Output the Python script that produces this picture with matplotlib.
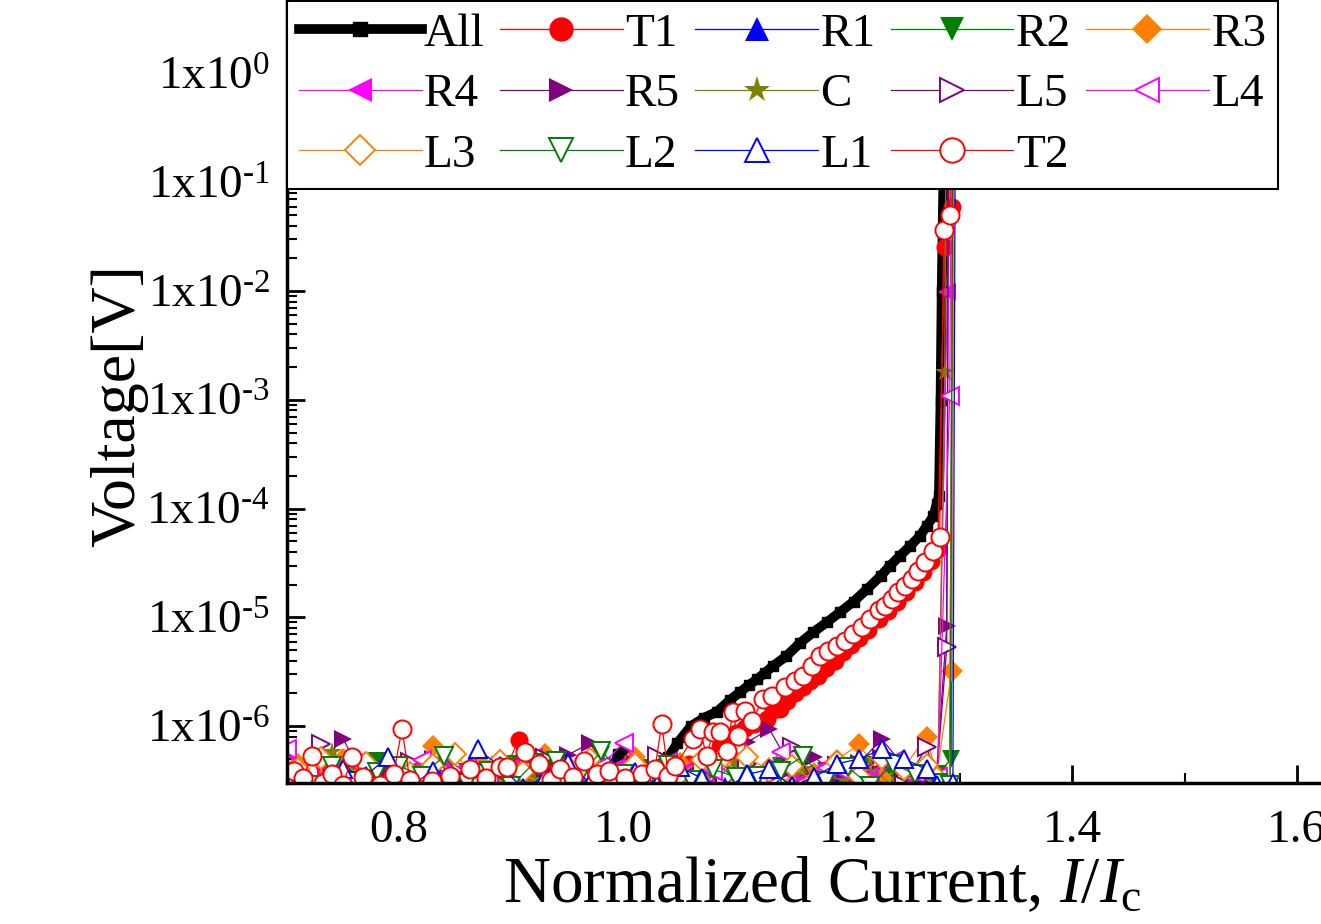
import matplotlib
matplotlib.use("Agg")
import matplotlib.pyplot as plt
from matplotlib.ticker import MultipleLocator, LogLocator, FuncFormatter, NullFormatter
import numpy as np

plt.rcParams["font.family"] = ["Liberation Serif", "DejaVu Serif"]
plt.rcParams["mathtext.fontset"] = "custom"
plt.rcParams["mathtext.rm"] = "Liberation Serif"
plt.rcParams["mathtext.it"] = "Liberation Serif:italic"

# ---- data (current I/Ic, voltage V) ----
# shared current points of the noise floor
grid_a = [0.70, 0.72, 0.74, 0.76, 0.78, 0.80, 0.82, 0.84, 0.86, 0.88,
          0.90, 0.92, 0.94, 0.96, 0.98, 1.00, 1.02, 1.04, 1.06, 1.08,
          1.10, 1.12, 1.14, 1.16, 1.18, 1.20, 1.22, 1.24, 1.26, 1.28]
grid_b = [0.71, 0.73, 0.75, 0.77, 0.79, 0.81, 0.83, 0.85, 0.87, 0.89,
          0.91, 0.93, 0.95, 0.97, 0.99, 1.01, 1.03, 1.05, 1.07, 1.09,
          1.11, 1.13, 1.15, 1.17, 1.19, 1.21, 1.23, 1.25, 1.27, 1.279]

all_x = [0.985, 0.995, 1.000, 1.005, 1.015, 1.030, 1.040, 1.048, 1.060, 1.072,
         1.083, 1.095, 1.104, 1.112, 1.119, 1.126, 1.133, 1.145, 1.157, 1.169,
         1.181, 1.193, 1.205, 1.217, 1.229, 1.237, 1.246, 1.255, 1.264, 1.270,
         1.276, 1.279, 1.281, 1.2825, 1.2835, 1.2850, 1.2865, 1.2880]
all_v = [2.0e-7, 5.6e-7, 6.0e-7, 4.6e-7, 2.6e-7, 2.8e-7, 5.2e-7, 7.0e-7, 1.0e-6, 1.2e-6,
         1.35e-6, 1.75e-6, 2.06e-6, 2.4e-6, 2.7e-6, 3.1e-6, 3.56e-6, 4.4e-6, 5.8e-6, 7.3e-6,
         9.0e-6, 1.12e-5, 1.4e-5, 1.82e-5, 2.4e-5, 2.96e-5, 3.66e-5, 4.5e-5, 5.6e-5, 6.9e-5,
         8.5e-5, 1.1e-4, 1.3e-4, 1e-3, 1e-2, 1e-1, 1.0, 8.0]

t1_x = [0.702, 0.716, 0.730, 0.744, 0.758, 0.772, 0.786, 0.800, 0.814, 0.828,
        0.842, 0.856, 0.870, 0.884, 0.896, 0.907, 0.920, 0.934, 0.948, 0.962,
        0.976, 0.990, 1.004, 1.018, 1.032, 1.046, 1.058, 1.070, 1.080, 1.086,
        1.092, 1.100, 1.108, 1.116, 1.1276, 1.133, 1.139, 1.146, 1.153, 1.160,
        1.166, 1.173, 1.180, 1.188, 1.1953, 1.203, 1.210, 1.218, 1.228, 1.236,
        1.244, 1.252, 1.260, 1.267, 1.274, 1.280, 1.2862, 1.2924, 1.295]
t1_v = [3.2e-7, 2.6e-7, 3.9e-7, 3.0e-7, 2.5e-7, 3.7e-7, 2.8e-7, 3.4e-7, 2.6e-7, 4.1e-7,
        3.0e-7, 2.7e-7, 3.8e-7, 3.2e-7, 4.4e-7, 7.5e-7, 3.4e-7, 4.2e-7, 2.9e-7, 3.6e-7,
        4.6e-7, 3.1e-7, 3.8e-7, 2.8e-7, 4.0e-7, 3.4e-7, 4.5e-7, 3.9e-7, 5.2e-7, 6.5e-7,
        7.6e-7, 8.6e-7, 9.6e-7, 1.05e-6, 1.16e-6, 1.40e-6, 1.43e-6, 1.70e-6, 2.0e-6, 2.3e-6,
        2.6e-6, 2.9e-6, 3.4e-6, 4.0e-6, 4.8e-6, 5.6e-6, 6.5e-6, 7.6e-6, 9.6e-6, 1.15e-5,
        1.4e-5, 1.7e-5, 2.1e-5, 2.6e-5, 3.3e-5, 4.3e-5, 2.55e-2, 5.96e-2, 5.0]

t2_x = [0.706, 0.714, 0.722, 0.732, 0.740, 0.750, 0.758, 0.768, 0.783, 0.795,
        0.8025, 0.8095, 0.829, 0.845, 0.863, 0.877, 0.890, 0.896, 0.912, 0.9245,
        0.935, 0.943, 0.955, 0.9646, 0.976, 0.987, 1.001, 1.0163, 1.0278, 1.034,
        1.040, 1.0457, 1.0617, 1.068, 1.074, 1.0795, 1.0858, 1.092, 1.0973, 1.1018,
        1.108, 1.1143, 1.1241, 1.1321, 1.1437, 1.1526, 1.1597, 1.1677, 1.1748, 1.182,
        1.190, 1.1971, 1.2042, 1.2122, 1.2194, 1.228, 1.2327, 1.2390, 1.2443, 1.2506,
        1.2568, 1.2621, 1.2684, 1.2755, 1.2817, 1.2855, 1.2906, 1.293]
t2_v = [3.9e-7, 3.3e-7, 5.3e-7, 3.0e-7, 3.6e-7, 2.9e-7, 5.2e-7, 3.4e-7, 2.9e-7, 3.6e-7,
        9.4e-7, 3.2e-7, 3.1e-7, 3.5e-7, 4.0e-7, 3.3e-7, 4.2e-7, 4.2e-7, 5.8e-7, 4.5e-7,
        3.2e-7, 4.0e-7, 3.4e-7, 4.8e-7, 3.6e-7, 3.9e-7, 3.3e-7, 3.6e-7, 4.0e-7, 1.04e-6,
        3.5e-7, 4.3e-7, 7.6e-7, 9.4e-7, 5.3e-7, 8.8e-7, 8.8e-7, 5.9e-7, 1.35e-6, 8.1e-7,
        1.37e-6, 1.11e-6, 1.77e-6, 1.89e-6, 2.29e-6, 2.6e-6, 2.88e-6, 3.56e-6, 4.4e-6, 4.9e-6,
        5.45e-6, 6.05e-6, 7.0e-6, 8.1e-6, 9.6e-6, 1.17e-5, 1.27e-5, 1.47e-5, 1.71e-5, 1.94e-5,
        2.25e-5, 2.67e-5, 3.23e-5, 4.07e-5, 5.5e-5, 3.66e-2, 5.0e-2, 5.0]

# noise floor values (on grid_a / grid_b) and the points after the quench
r1_v = [2.8e-7, 3.5e-7, 2.5e-7, 4.1e-7, 3.0e-7, 2.7e-7, 4.4e-7, 3.2e-7, 2.6e-7, 3.8e-7,
        2.9e-7, 4.0e-7, 3.3e-7, 2.5e-7, 4.3e-7, 3.1e-7, 2.7e-7, 3.9e-7, 4.6e-7, 2.8e-7,
        3.4e-7, 2.6e-7, 4.2e-7, 3.0e-7, 2.9e-7, 3.6e-7, 4.5e-7, 2.7e-7, 3.2e-7, 2.6e-7]
r1_tail_x = [1.2905, 1.294]
r1_tail_v = [2.6e-7, 5.0]

r2_v = [3.0e-7, 4.2e-7, 2.6e-7, 3.6e-7, 4.8e-7, 2.9e-7, 3.3e-7, 5.0e-7, 3.8e-7, 2.7e-7,
        4.5e-7, 3.1e-7, 4.0e-7, 2.8e-7, 5.4e-7, 3.5e-7, 4.1e-7, 2.9e-7, 3.7e-7, 4.9e-7,
        3.2e-7, 2.6e-7, 4.3e-7, 3.0e-7, 3.9e-7, 2.8e-7, 4.4e-7, 3.4e-7, 2.7e-7, 3.6e-7]
r2_tail_x = [1.292, 1.2945]
r2_tail_v = [5.0e-7, 5.0]

r3_v = [4.5e-7, 3.2e-7, 5.0e-7, 2.9e-7, 4.0e-7, 3.6e-7, 6.5e-7, 3.0e-7, 4.8e-7, 3.4e-7,
        2.8e-7, 5.6e-7, 3.9e-7, 4.4e-7, 3.1e-7, 5.2e-7, 2.7e-7, 4.6e-7, 3.5e-7, 5.5e-7,
        3.0e-7, 4.1e-7, 2.9e-7, 3.7e-7, 4.9e-7, 6.8e-7, 3.3e-7, 4.2e-7, 8.0e-7, 3.5e-7]
r3_tail_x = [1.2924, 1.295]
r3_tail_v = [3.2e-6, 5.0]

r4_v = [5.8e-7, 3.4e-7, 4.1e-7, 2.9e-7, 3.7e-7, 4.5e-7, 3.0e-7, 4.8e-7, 3.3e-7, 2.7e-7,
        4.3e-7, 5.2e-7, 3.1e-7, 3.9e-7, 2.6e-7, 4.6e-7, 3.5e-7, 2.8e-7, 4.2e-7, 3.0e-7,
        4.9e-7, 3.6e-7, 4.0e-7, 3.2e-7, 4.4e-7, 2.9e-7, 3.8e-7, 4.7e-7, 3.1e-7, 3.5e-7]
r4_tail_x = [1.2886, 1.291]
r4_tail_v = [9.8e-3, 5.0]

r5_v = [3.6e-7, 4.6e-7, 7.6e-7, 3.2e-7, 4.0e-7, 2.9e-7, 5.0e-7, 3.4e-7, 2.7e-7, 4.4e-7,
        3.8e-7, 3.0e-7, 5.4e-7, 7.0e-7, 3.3e-7, 4.5e-7, 2.8e-7, 3.9e-7, 4.2e-7, 5.0e-7,
        7.1e-7, 9.4e-7, 4.0e-7, 5.2e-7, 3.5e-7, 4.6e-7, 7.6e-7, 4.3e-7, 3.0e-7, 3.8e-7]
r5_tail_x = [1.288, 1.290]
r5_tail_v = [8.3e-6, 5.0]

c_v = [3.1e-7, 4.0e-7, 5.8e-7, 3.3e-7, 2.7e-7, 4.2e-7, 4.3e-7, 3.0e-7, 3.6e-7, 2.8e-7,
       4.4e-7, 3.2e-7, 2.6e-7, 3.9e-7, 4.7e-7, 3.4e-7, 2.9e-7, 4.1e-7, 3.0e-7, 3.7e-7,
       4.6e-7, 3.3e-7, 2.7e-7, 4.0e-7, 3.5e-7, 3.1e-7, 4.3e-7, 2.8e-7, 3.8e-7, 3.2e-7]
c_tail_x = [1.2862, 1.288]
c_tail_v = [1.8e-3, 5.0]

l5_v = [3.0e-7, 6.8e-7, 3.5e-7, 4.2e-7, 2.8e-7, 4.7e-7, 3.3e-7, 2.6e-7, 4.1e-7, 3.7e-7,
        2.9e-7, 5.1e-7, 3.2e-7, 4.4e-7, 3.6e-7, 2.7e-7, 5.3e-7, 3.1e-7, 4.0e-7, 2.8e-7,
        4.5e-7, 3.4e-7, 6.4e-7, 3.0e-7, 4.3e-7, 3.8e-7, 5.0e-7, 2.9e-7, 6.4e-7, 3.5e-7]
l5_tail_x = [1.288, 1.290]
l5_tail_v = [5.3e-6, 5.0]

l4_v = [6.2e-7, 4.0e-7, 3.2e-7, 4.6e-7, 2.8e-7, 3.6e-7, 4.9e-7, 3.0e-7, 4.2e-7, 3.4e-7,
        2.7e-7, 4.5e-7, 3.1e-7, 3.8e-7, 4.3e-7, 7.0e-7, 3.3e-7, 4.7e-7, 2.9e-7, 3.9e-7,
        6.3e-7, 3.5e-7, 5.8e-7, 3.0e-7, 4.1e-7, 3.6e-7, 2.8e-7, 4.8e-7, 3.7e-7, 3.4e-7]
l4_tail_x = [1.2907, 1.2925]
l4_tail_v = [1.09e-3, 5.0]

l3_v = [4.0e-7, 5.1e-7, 3.3e-7, 4.6e-7, 2.9e-7, 3.7e-7, 4.4e-7, 5.5e-7, 3.2e-7, 4.8e-7,
        3.8e-7, 2.7e-7, 4.2e-7, 5.0e-7, 3.4e-7, 4.5e-7, 3.0e-7, 3.6e-7, 4.9e-7, 5.3e-7,
        5.2e-7, 3.9e-7, 4.3e-7, 3.1e-7, 4.7e-7, 3.5e-7, 5.1e-7, 4.0e-7, 4.4e-7, 3.3e-7]
l3_tail_x = [1.2905, 1.294]
l3_tail_v = [2.8e-7, 5.0]

l2_v = [3.7e-7, 2.9e-7, 4.3e-7, 3.1e-7, 3.8e-7, 4.3e-7, 3.5e-7, 5.3e-7, 3.0e-7, 3.9e-7,
        2.8e-7, 4.6e-7, 4.8e-7, 3.3e-7, 5.9e-7, 3.6e-7, 2.9e-7, 4.4e-7, 3.2e-7, 4.0e-7,
        3.4e-7, 3.5e-7, 3.9e-7, 5.3e-7, 3.1e-7, 4.2e-7, 2.8e-7, 4.5e-7, 3.6e-7, 3.0e-7]
l2_tail_x = [1.291, 1.294]
l2_tail_v = [2.9e-7, 5.0]

l1_v = [3.2e-7, 2.6e-7, 4.0e-7, 3.5e-7, 5.2e-7, 2.8e-7, 3.9e-7, 3.1e-7, 6.1e-7, 4.3e-7,
        2.7e-7, 3.4e-7, 4.6e-7, 3.0e-7, 2.5e-7, 3.8e-7, 2.9e-7, 4.2e-7, 3.3e-7, 2.6e-7,
        3.6e-7, 4.0e-7, 2.8e-7, 3.4e-7, 4.5e-7, 5.0e-7, 6.1e-7, 5.0e-7, 4.0e-7, 2.9e-7]
l1_tail_x = [1.2935, 1.296]
l1_tail_v = [3.0e-7, 5.0]

RED, BLUE, GREEN, ORANGE = "#FF0000", "#0000FF", "#008000", "#FF8000"
MAGENTA, PURPLE, OLIVE = "#FF00FF", "#800080", "#808000"

# label, x, v, color, marker, filled, marker size
series = [
    ("T1", t1_x, t1_v, RED, "o", True, 13),
    ("R1", grid_b + r1_tail_x, r1_v + r1_tail_v, BLUE, "^", True, 13),
    ("R2", grid_a + r2_tail_x, r2_v + r2_tail_v, GREEN, "v", True, 13),
    ("R3", grid_b + r3_tail_x, r3_v + r3_tail_v, ORANGE, "D", True, 11),
    ("R4", grid_a + r4_tail_x, r4_v + r4_tail_v, MAGENTA, "<", True, 13),
    ("R5", grid_b + r5_tail_x, r5_v + r5_tail_v, PURPLE, ">", True, 13),
    ("C", grid_a + c_tail_x, c_v + c_tail_v, OLIVE, "*", True, 15),
    ("L5", grid_b + l5_tail_x, l5_v + l5_tail_v, PURPLE, ">", False, 13),
    ("L4", grid_a + l4_tail_x, l4_v + l4_tail_v, MAGENTA, "<", False, 13),
    ("L3", grid_b + l3_tail_x, l3_v + l3_tail_v, ORANGE, "D", False, 11),
    ("L2", grid_a + l2_tail_x, l2_v + l2_tail_v, GREEN, "v", False, 13),
    ("L1", grid_b + l1_tail_x, l1_v + l1_tail_v, BLUE, "^", False, 13),
    ("T2", t2_x, t2_v, RED, "o", False, 13),
]

fig = plt.figure(figsize=(13.21, 9.24), dpi=100)
# the picture is a crop: axes run past the top and right edges of the figure
ax = fig.add_axes([287 / 1321, 141 / 924, 1122 / 1321, 818 / 924])

handles = {}
(h,) = ax.plot(all_x, all_v, color="black", lw=7, marker="s", ms=7,
               mec="black", mfc="black", label="All")
handles["All"] = h
for name, xs, vs, col, mk, filled, ms in series:
    (h,) = ax.plot(xs, vs, color=col, lw=0.9, marker=mk, ms=ms,
                   mfc=col if filled else "white", mec=col,
                   mew=0 if filled else 1.4, label=name)
    handles[name] = h

ax.set_yscale("log")
ax.set_xlim(0.7, 1.7)
ax.set_ylim(3e-7, 10)


def decade_label(v, pos):
    e = int(round(np.log10(v)))
    sup = str(e).replace("-", "\u2010")
    return "1x10$^{%s}$" % sup


ax.xaxis.set_major_locator(MultipleLocator(0.2))
ax.xaxis.set_minor_locator(MultipleLocator(0.1))
ax.xaxis.set_major_formatter(FuncFormatter(lambda v, p: f"{v:.1f}"))
ax.yaxis.set_major_locator(LogLocator(base=10, numticks=20))
ax.yaxis.set_minor_locator(LogLocator(base=10, subs=np.arange(2, 10), numticks=20))
ax.yaxis.set_minor_formatter(NullFormatter())
ax.yaxis.set_major_formatter(FuncFormatter(decade_label))

ax.tick_params(which="both", direction="in", labelsize=34)
ax.tick_params(which="major", length=13, width=2)
ax.tick_params(which="minor", length=7, width=1.5)
ax.tick_params(axis="x", pad=19)
ax.tick_params(axis="y", pad=12)
for sp in ax.spines.values():
    sp.set_linewidth(2.5)

ax.set_xlabel(r"Normalized Current, $I/I_{\mathrm{c}}$", fontsize=47)
ax.xaxis.set_label_coords(0.477, -0.09)
ax.set_ylabel("Voltage[V]", fontsize=46)
ax.yaxis.set_label_coords(-0.124, 0.461)

# legend filled row by row (matplotlib fills column by column)
order = ["All", "R4", "L3", "T1", "R5", "L2", "R1", "C", "L1",
         "R2", "L5", "T2", "R3", "L4"]
leg = ax.legend([handles[k] for k in order], order, ncol=5,
                loc="upper left", bbox_to_anchor=(287 / 1321, 1 - 1 / 924),
                bbox_transform=fig.transFigure, borderaxespad=0,
                fontsize=34, markerscale=1.35, handlelength=2.6,
                handletextpad=0.05, columnspacing=0.32, labelspacing=0.37,
                borderpad=0.25, fancybox=False, framealpha=1, edgecolor="black")
leg.get_frame().set_linewidth(1.5)

fig.savefig("out.png", dpi=100)
